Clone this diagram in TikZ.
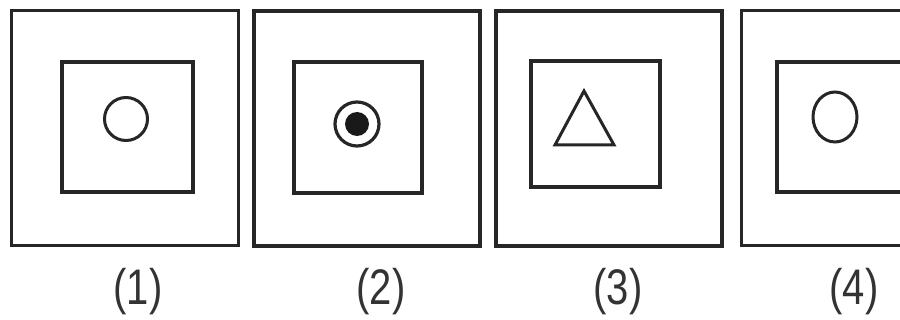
\documentclass[tikz,border=0pt]{standalone}
\usepackage{fontspec}
\setmainfont{Liberation Sans}[FakeStretch=0.8]
\begin{document}
\begin{tikzpicture}[x=1pt,y=-1pt,
  frame/.style={draw=black!85,line width=3.4pt},
  figline/.style={draw=black!85,line width=3pt},
  lbl/.style={font=\fontsize{50}{54}\selectfont,text=black!80,inner sep=0pt,anchor=center}]
\useasboundingbox (0,0) rectangle (900,320);
\clip (0,0) rectangle (900,320);
% panel 1
\draw[frame,line width=3pt] (11,11) rectangle (238,246);
\draw[frame] (62,62) rectangle (193,192);
\draw[figline] (126,119) circle (21.5);
% panel 2
\draw[frame] (254,11) rectangle (480,246);
\draw[frame] (294,62) rectangle (422,193);
\draw[figline,line width=3.2pt] (357,124) circle (22);
\fill[black!90] (357,124) circle (12);
% panel 3
\draw[frame] (496,11) rectangle (722,246);
\draw[frame] (531,61) rectangle (660,187);
\draw[figline,line join=miter] (584,91) -- (614,145) -- (555,145) -- cycle;
% panel 4
\draw[frame,line width=3pt] (741,11) rectangle (970,246);
\draw[frame] (777,62) rectangle (909,192);
\draw[figline] (835,117) ellipse (22 and 25);
% labels
\node[lbl] (l1) at (138,292) {(1)};
\node[lbl] (l2) at (381,292) {(2)};
\node[lbl] (l3) at (618,292) {(3)};
\node[lbl] (l4) at (854,292) {(4)};
\end{tikzpicture}
\end{document}
